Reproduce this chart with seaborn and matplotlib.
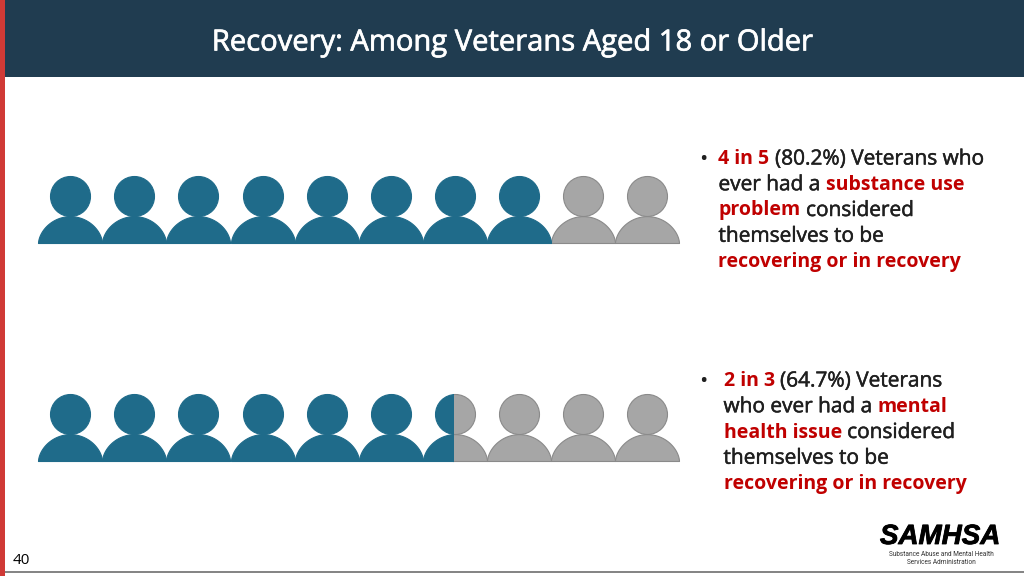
import numpy as np
import pandas as pd
import matplotlib
matplotlib.use("Agg")
import matplotlib.pyplot as plt
import matplotlib.patheffects as pe
from matplotlib.markers import MarkerStyle
from matplotlib.patches import Rectangle
from matplotlib.path import Path
import seaborn as sns

# Data
title = "Recovery: Among Veterans Aged 18 or Older"
page_number = "40"
people_total = 10
row_names = ["substance use", "mental health"]
people_filled = [8, 6.47]

BLUE = "#1f6b8a"
GREY = "#a6a6a6"
RED = "#c00000"
DARK = "#1f1f1f"

bullet_1 = [
    [("4 in 5", RED, True), (" (80.2%) Veterans who", DARK, False)],
    [("ever had a ", DARK, False), ("substance use", RED, True)],
    [("problem", RED, True), (" considered", DARK, False)],
    [("themselves to be", DARK, False)],
    [("recovering or in recovery", RED, True)],
]
bullet_2 = [
    [("2 in 3", RED, True), (" (64.7%) Veterans", DARK, False)],
    [("who ever had a ", DARK, False), ("mental", RED, True)],
    [("health issue", RED, True), (" considered", DARK, False)],
    [("themselves to be", DARK, False)],
    [("recovering or in recovery", RED, True)],
]

sns.set_theme(style="white")
plt.rcParams["font.family"] = ["Open Sans", "DejaVu Sans"]

fig = plt.figure(figsize=(10.24, 5.76), dpi=100)
ax = fig.add_axes([0, 0, 1, 1])
ax.set_xlim(0, 1024)
ax.set_ylim(576, 0)
ax.axis("off")

# Slide frame
ax.add_patch(Rectangle((0, 0), 1024, 77, color="#203c50", lw=0))
ax.add_patch(Rectangle((0, 0), 5, 576, color="#d03a36", lw=0, zorder=3))
ax.plot([5, 1024], [571.5, 571.5], color="#6e6e6e", lw=1.2)
ax.text(512.5, 43, title, color="white", fontsize=21, ha="center", va="center",
        path_effects=[pe.withStroke(linewidth=0.5, foreground="white")])
ax.text(13, 560, page_number, color="black", fontsize=11, va="center")

# Pictogram
step = 64.1
left = 38.2
head_s = (40 * 0.72) ** 2
body_s = (64 * 0.72) ** 2
t = np.linspace(0, np.pi, 60)
body_marker = MarkerStyle(Path(np.vstack([
    np.column_stack([np.cos(t), 0.84 * np.sin(t) ** 1.15]), [[1, 0]]])))


def draw_people(df, color, edge, clip):
    for y_col, marker, size in [("head_y", "o", head_s), ("base_y", body_marker, body_s)]:
        sns.scatterplot(data=df, x="x", y=y_col, marker=marker, s=size, color=color,
                        edgecolor=edge, linewidth=0.8, legend=False, ax=ax)
        ax.collections[-1].set_clip_path(clip)


baselines = [242.5, 460.5]
for filled, base in zip(people_filled, baselines):
    people = pd.DataFrame({"n": np.arange(people_total)})
    people["x"] = left + step * (people["n"] + 0.5)
    people["head_y"] = base - 46.5
    people["base_y"] = base
    split = left + step * filled
    on = people[people["n"] < np.ceil(filled)]
    off = people[people["n"] >= np.floor(filled)]
    clip_on = Rectangle((0, base - 80), split, 90, transform=ax.transData)
    clip_off = Rectangle((split, base - 80), 1024 - split, 90, transform=ax.transData)
    draw_people(off, GREY, "#8a8a8a", clip_off)
    draw_people(on, BLUE, BLUE, clip_on)

ax.set_xlim(0, 1024)
ax.set_ylim(576, 0)
ax.set_xlabel("")
ax.set_ylabel("")


# Bullets, each line built from coloured runs
def draw_bullet(lines, x_dot, x_text, y_first):
    renderer = fig.canvas.get_renderer()
    ax.text(x_dot, y_first, "•", color=DARK, fontsize=16, va="center")
    for i, runs in enumerate(lines):
        x = x_text
        for text, color, bold in runs:
            # nbsp keeps leading/trailing spaces in the width measure
            if bold:
                t_obj = ax.text(x, y_first + i * 25.75, text.replace(" ", "\u00a0"), color=color,
                                fontsize=14, fontweight="bold", va="center")
            else:
                t_obj = ax.text(x, y_first + i * 25.75, text.replace(" ", "\u00a0"), color=color,
                                fontsize=15, va="center",
                                path_effects=[pe.withStroke(linewidth=0.35, foreground=color)])
            x = t_obj.get_window_extent(renderer).x1


draw_bullet(bullet_1, 699, 718.5, 159)
draw_bullet(bullet_2, 699, 723.5, 381)

# Logo
ax.text(940, 537, "SAMHSA", color="black", fontsize=20, fontweight="bold", fontstyle="italic",
        family="Liberation Sans", ha="center", va="center",
        path_effects=[pe.withStroke(linewidth=0.6, foreground="black")])
ax.text(941.5, 554, "Substance Abuse and Mental Health", color="#333333", fontsize=4.7,
        family="Roboto", ha="center", va="center")
ax.text(941.5, 563, "Services Administration", color="#333333", fontsize=4.7,
        family="Roboto", ha="center", va="center")

fig.savefig("out.png", dpi=100)
